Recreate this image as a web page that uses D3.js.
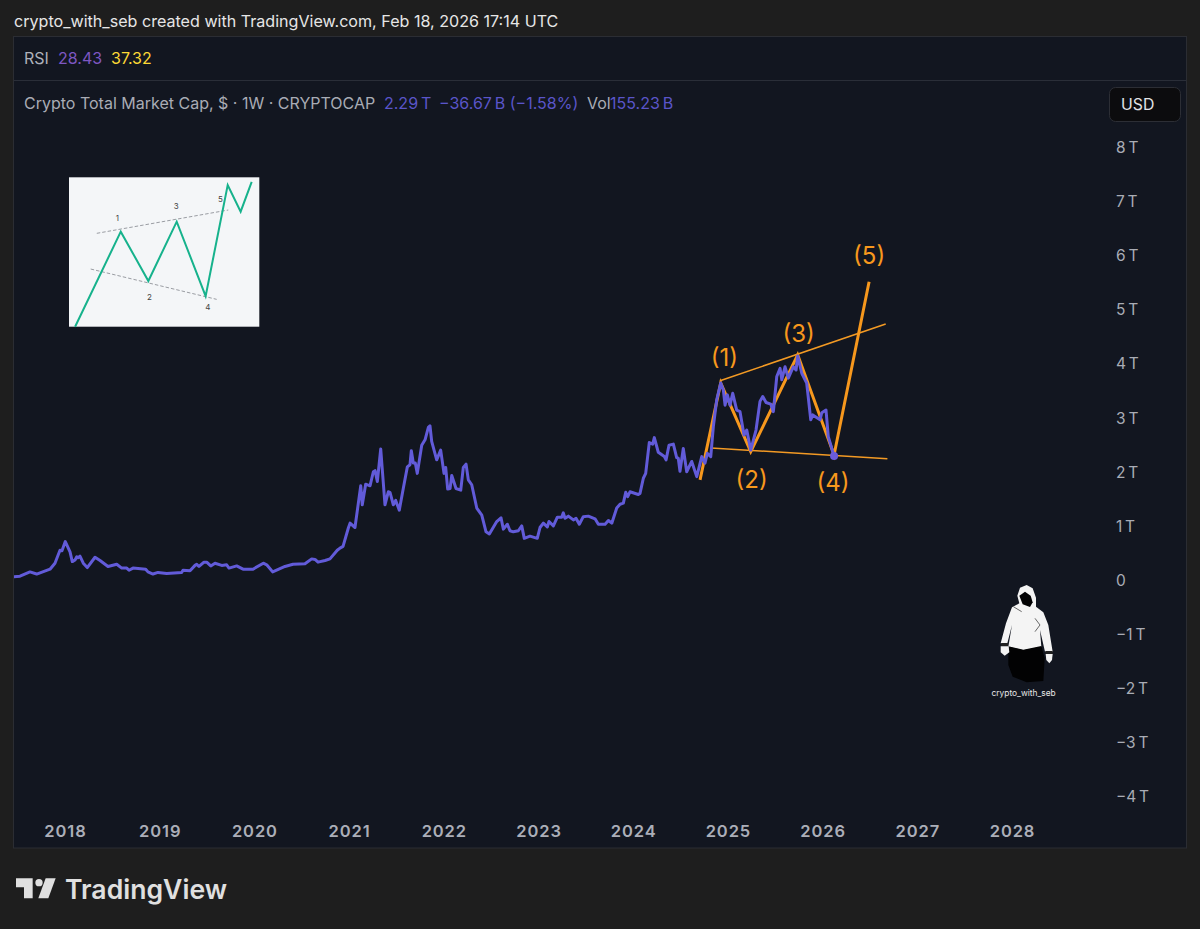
<!DOCTYPE html>
<html>
<head>
<meta charset="utf-8">
<script src="https://cdn.jsdelivr.net/npm/d3@7"></script>
<style>
  html, body { margin: 0; padding: 0; background: #1e1e1e; }
  svg { display: block; }
  text { font-family: Inter, Roboto, "Noto Sans", sans-serif; }
</style>
</head>
<body>
<div id="chart"></div>
<script>
// weekly close of the total market cap (decimal year, trillions)
var capYears = [2017.454,2017.525,2017.630,2017.701,2017.842,2017.894,2017.947,2017.968,2018.003,2018.053,2018.077,2018.106,2018.124,2018.137,2018.158,2018.193,2018.235,2018.317,2018.370,2018.454,2018.546,2018.599,2018.652,2018.676,2018.718,2018.852,2018.876,2018.929,2018.982,2019.074,2019.232,2019.246,2019.320,2019.373,2019.391,2019.415,2019.468,2019.496,2019.539,2019.584,2019.655,2019.707,2019.732,2019.813,2019.880,2019.985,2020.094,2020.130,2020.193,2020.323,2020.408,2020.534,2020.605,2020.640,2020.672,2020.746,2020.798,2020.875,2020.904,2020.936,2020.992,2021.010,2021.062,2021.123,2021.139,2021.175,2021.221,2021.256,2021.274,2021.298,2021.334,2021.379,2021.414,2021.432,2021.467,2021.492,2021.530,2021.572,2021.615,2021.643,2021.657,2021.678,2021.699,2021.720,2021.767,2021.802,2021.837,2021.854,2021.872,2021.925,2021.967,2022.002,2022.020,2022.041,2022.066,2022.084,2022.129,2022.179,2022.206,2022.235,2022.259,2022.295,2022.348,2022.401,2022.446,2022.481,2022.559,2022.604,2022.629,2022.671,2022.699,2022.734,2022.787,2022.823,2022.850,2022.910,2022.987,2023.016,2023.051,2023.093,2023.111,2023.157,2023.199,2023.245,2023.262,2023.280,2023.315,2023.368,2023.396,2023.431,2023.473,2023.526,2023.597,2023.632,2023.703,2023.738,2023.774,2023.826,2023.861,2023.896,2023.921,2023.942,2023.966,2024.054,2024.072,2024.107,2024.132,2024.170,2024.206,2024.223,2024.265,2024.329,2024.347,2024.378,2024.424,2024.459,2024.476,2024.494,2024.529,2024.565,2024.618,2024.671,2024.724,2024.758,2024.783,2024.819,2024.846,2024.882,2024.924,2024.952,2024.970,2024.994,2025.022,2025.051,2025.093,2025.128,2025.170,2025.199,2025.241,2025.297,2025.339,2025.368,2025.403,2025.452,2025.480,2025.516,2025.551,2025.569,2025.603,2025.638,2025.691,2025.720,2025.737,2025.780,2025.832,2025.875,2025.896,2025.973,2025.991,2026.036,2026.060,2026.121];
var capValues = [0.06,0.07,0.15,0.11,0.20,0.31,0.55,0.54,0.71,0.52,0.34,0.37,0.43,0.41,0.44,0.31,0.23,0.42,0.36,0.25,0.29,0.22,0.22,0.18,0.22,0.20,0.15,0.11,0.14,0.12,0.14,0.18,0.17,0.27,0.29,0.25,0.33,0.33,0.26,0.31,0.27,0.28,0.22,0.26,0.20,0.20,0.31,0.28,0.15,0.25,0.29,0.30,0.39,0.38,0.33,0.36,0.39,0.55,0.59,0.62,0.96,1.05,0.97,1.74,1.39,1.77,1.74,2.00,2.02,1.82,2.42,1.39,1.63,1.62,1.39,1.47,1.29,1.69,2.09,2.13,2.39,2.16,2.16,1.97,2.49,2.59,2.82,2.85,2.56,2.22,2.40,1.97,2.08,1.68,1.69,1.93,1.69,1.66,2.08,2.14,1.85,1.76,1.33,1.20,0.89,0.85,1.08,1.15,0.94,1.03,0.91,0.89,0.91,1.00,0.77,0.81,0.77,0.97,1.05,0.98,1.08,1.00,1.16,1.16,1.24,1.14,1.18,1.11,1.14,1.03,1.17,1.18,1.13,1.03,1.03,1.10,1.05,1.33,1.40,1.42,1.62,1.54,1.63,1.58,1.60,1.88,1.97,2.54,2.51,2.63,2.36,2.28,2.22,2.49,2.51,2.26,2.25,2.01,2.43,2.00,2.19,1.91,2.28,2.16,2.34,2.28,2.83,3.33,3.64,3.51,3.23,3.42,3.23,3.45,3.14,3.11,2.68,2.77,2.40,2.77,3.30,3.39,3.28,3.25,3.11,3.76,3.91,3.70,3.94,3.73,3.94,3.88,4.14,3.82,3.64,2.96,3.05,2.96,3.09,3.14,2.65,2.29];

// the orange wave count and its two trend lines
var waveYears = [2024.706,2024.924,2025.241,2025.737,2026.121,2026.491];
var waveValues = [1.85,3.64,2.37,4.16,2.31,5.51];
var upperYears = [2024.917,2026.666];
var upperValues = [3.68,4.73];
var lowerYears = [2024.822,2026.684];
var lowerValues = [2.44,2.24];
var waveLabels = ["(1)","(2)","(3)","(4)","(5)"];
var waveLabelYears = [2024.962,2025.250,2025.747,2026.111,2026.491];
var waveLabelValues = [4.11,1.85,4.56,1.80,6.00];

var yearTicks = [2018,2019,2020,2021,2022,2023,2024,2025,2026,2027,2028];
var capTicks = [-4,-3,-2,-1,0,1,2,3,4,5,6,7,8];

// small textbook sketch in the corner, percent of the inset box
var sketchX = [3.2,27.2,41.7,56.6,71.8,83.4,90.2,96];
var sketchY = [0,63.6,30.6,70.3,20.5,94.8,77,97];
var sketchUpperX = [14.6,83.7];
var sketchUpperY = [62.5,78.1];
var sketchLowerX = [11.4,77.6];
var sketchLowerY = [38.6,18.3];
var sketchLabels = ["1","2","3","4","5"];
var sketchLabelX = [25.4,42.3,56.4,73,79.6];
var sketchLabelY = [73,20.2,80.5,12.9,85.7];

var width = 1200, height = 929;
var svg = d3.select("#chart").append("svg").attr("width", width).attr("height", height);

svg.append("rect").attr("width", width).attr("height", height).attr("fill", "#1e1e1e");

// chart panel
svg.append("rect").attr("x", 13.5).attr("y", 36.5).attr("width", 1173).attr("height", 811.5)
  .attr("fill", "#121620").attr("stroke", "#2b2d33");
svg.append("line").attr("x1", 14).attr("x2", 1186).attr("y1", 80.5).attr("y2", 80.5).attr("stroke", "#2a2e38");

svg.append("clipPath").attr("id", "panel").append("rect")
  .attr("x", 14).attr("y", 81).attr("width", 1172).attr("height", 766);

var x = d3.scaleLinear().domain([2018, 2028]).range([65, 1012]);
var y = d3.scaleLinear().domain([-4, 8]).range([796.5, 147]);

// axes
var xAxis = svg.append("g").attr("transform", "translate(0,825.5)")
  .call(d3.axisBottom(x).tickValues(yearTicks).tickFormat(d3.format("d")).tickSize(0).tickPadding(0));
xAxis.select(".domain").remove();
xAxis.selectAll("text").attr("dy", "0.71em").attr("fill", "#abaeb8")
  .style("font-size", "16.5px").style("font-weight", 600).style("letter-spacing", "0.9px");

var yAxis = svg.append("g").attr("transform", "translate(1116,0.5)")
  .call(d3.axisRight(y).tickValues(capTicks).tickSize(0).tickPadding(0)
    .tickFormat(function (d) {
      if (d === 0) return "0";
      return (d < 0 ? "\u2212" + (-d) : d) + "\u2009T";
    }));
yAxis.select(".domain").remove();
yAxis.selectAll("text").attr("fill", "#a9acb5").style("font-size", "15.5px");

// trend lines and wave go under the market cap line
var capLine = d3.line().x(function (d) { return x(d[0]); }).y(function (d) { return y(d[1]); });
var plot = svg.append("g").attr("clip-path", "url(#panel)");
[[upperYears, upperValues], [lowerYears, lowerValues]].forEach(function (t) {
  plot.append("path").datum(d3.zip(t[0], t[1])).attr("d", capLine)
    .attr("fill", "none").attr("stroke", "#f39a24").attr("stroke-width", 1.6);
});
plot.append("path").datum(d3.zip(waveYears, waveValues)).attr("d", capLine)
  .attr("fill", "none").attr("stroke", "#f7981d").attr("stroke-width", 3);

// market cap line
plot.append("path").datum(d3.zip(capYears, capValues))
  .attr("d", capLine).attr("fill", "none").attr("stroke", "#625bd9")
  .attr("stroke-width", 3).attr("stroke-linejoin", "round");

plot.append("circle").attr("cx", x(capYears[capYears.length - 1])).attr("cy", y(capValues[capValues.length - 1]))
  .attr("r", 4).attr("fill", "#6a5bdc");

svg.append("g").selectAll("text").data(waveLabels).join("text")
  .attr("x", function (d, i) { return x(waveLabelYears[i]); })
  .attr("y", function (d, i) { return y(waveLabelValues[i]); })
  .attr("text-anchor", "middle").attr("dominant-baseline", "central")
  .attr("fill", "#f7981d").style("font-size", "24px").text(function (d) { return d; });

// header + legend text
function label(tx, ty, str, color, size, weight) {
  svg.append("text").attr("x", tx).attr("y", ty).attr("dominant-baseline", "central")
    .attr("fill", color).style("font-size", size + "px").style("font-weight", weight || 400).text(str);
}
label(14, 21, "crypto_with_seb created with TradingView.com, Feb 18, 2026 17:14 UTC", "#e6e6e6", 16.1);
label(24, 57.5, "RSI", "#aeb1ba", 16);
label(58, 57.5, "28.43", "#7e57c2", 16);
label(111, 57.5, "37.32", "#fdd835", 16);
label(24, 103, "Crypto Total Market Cap, $ \u00b7 1W \u00b7 CRYPTOCAP", "#a9acb5", 16);
label(384, 103, "2.29\u2009T", "#5a55c9", 16);
label(439, 103, "\u221236.67\u2009B (\u22121.58%)", "#5a55c9", 16);
label(587, 103, "Vol", "#a9acb5", 16);
label(610, 103, "155.23\u2009B", "#5a55c9", 16);

// USD box
svg.append("rect").attr("x", 1109.5).attr("y", 87.5).attr("width", 71).attr("height", 34).attr("rx", 6)
  .attr("fill", "#0c0c0e").attr("stroke", "#2c2e35");
label(1121, 104.5, "USD", "#e2e3e6", 15.8);

// inset sketch
var insetX = d3.scaleLinear().domain([0, 100]).range([69, 259.3]);
var insetY = d3.scaleLinear().domain([0, 100]).range([326.7, 177.3]);
var insetLine = d3.line().x(function (d) { return insetX(d[0]); }).y(function (d) { return insetY(d[1]); });
svg.append("rect").attr("x", 69).attr("y", 177.3).attr("width", 190.3).attr("height", 149.4).attr("fill", "#f4f6f8");
[[sketchUpperX, sketchUpperY], [sketchLowerX, sketchLowerY]].forEach(function (t) {
  svg.append("path").datum(d3.zip(t[0], t[1])).attr("d", insetLine)
    .attr("fill", "none").attr("stroke", "#9a9da3").attr("stroke-width", 1).attr("stroke-dasharray", "3.5,2");
});
svg.append("path").datum(d3.zip(sketchX, sketchY)).attr("d", insetLine)
  .attr("fill", "none").attr("stroke", "#16b28c").attr("stroke-width", 2);
svg.append("g").selectAll("text").data(sketchLabels).join("text")
  .attr("x", function (d, i) { return insetX(sketchLabelX[i]); })
  .attr("y", function (d, i) { return insetY(sketchLabelY[i]); })
  .attr("text-anchor", "middle").attr("dominant-baseline", "central")
  .attr("fill", "#444").style("font-size", "8px").text(function (d) { return d; });

// hooded figure
var fig = svg.append("g").attr("transform", "translate(980,575) scale(0.3333)");
fig.append("path").attr("fill", "#f4f4f4")
  .attr("d", "M96,97 L118,85 L112,62 L120,38 L140,30 L158,40 L168,68 L168,95 L190,112 L205,150 L218,230 L195,230 L180,165 L184,215 L130,226 L85,215 L96,150 L82,205 L62,205 L78,145 Z");
fig.append("path").attr("fill", "#020203")
  .attr("d", "M85,214 L130,224 L184,213 L194,250 L190,318 L140,322 L98,305 L85,270 Z");
fig.append("path").attr("fill", "#020203")
  .attr("d", "M118,62 L135,50 L152,62 L158,82 L150,96 L128,88 Z");
fig.append("path").attr("fill", "none").attr("stroke", "#666").attr("stroke-width", 3)
  .attr("d", "M165,130 L180,150 L165,170 M100,95 L125,110");
fig.append("rect").attr("x", 64).attr("y", 204).attr("width", 20).attr("height", 9).attr("fill", "#222");
fig.append("rect").attr("x", 196).attr("y", 228).attr("width", 22).attr("height", 9).attr("fill", "#222");
fig.append("path").attr("fill", "#f4f4f4").attr("d", "M62,214 L86,214 L88,232 L74,242 L62,232 Z");
fig.append("path").attr("fill", "#f4f4f4").attr("d", "M197,237 L218,237 L216,255 L208,265 L199,255 Z");
label(991.5, 693, "crypto_with_seb", "#e8e8e8", 8.4);

// TradingView logo
var logo = svg.append("g").attr("transform", "translate(0,810) scale(0.3333)").attr("fill", "#e0e0e0");
logo.append("path").attr("d", "M48,205 H98 V265 H72 V232 H48 Z");
logo.append("circle").attr("cx", 117).attr("cy", 218).attr("r", 11);
logo.append("path").attr("d", "M137,205 H167 L145,265 H115 Z");
label(65, 888.5, "TradingView", "#e0e0e0", 26.6, 600);
</script>
</body>
</html>
